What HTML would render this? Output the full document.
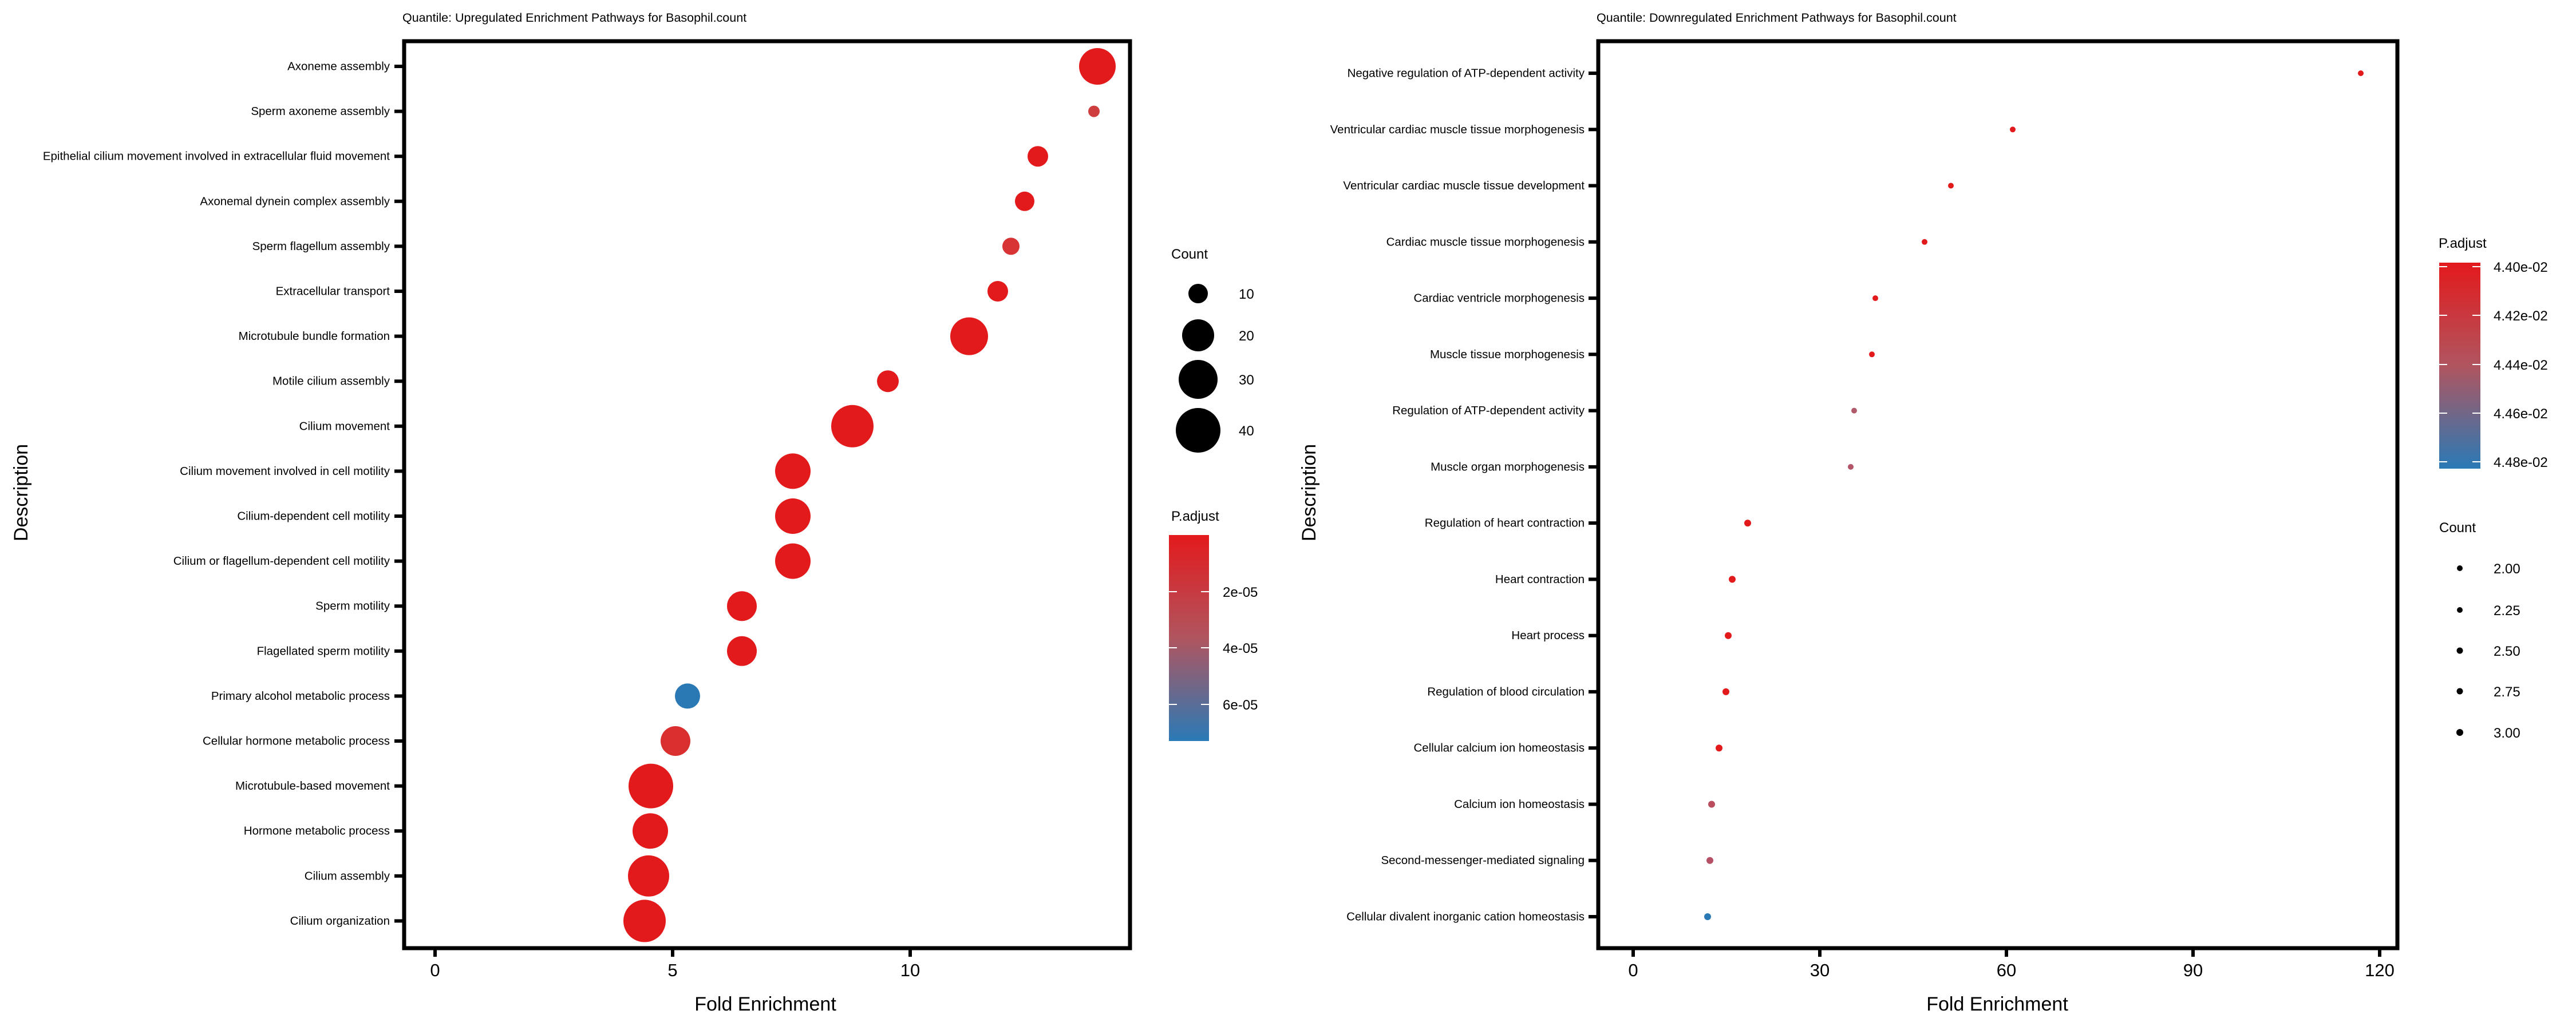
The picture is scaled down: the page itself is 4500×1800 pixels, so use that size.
<!DOCTYPE html>
<html><head><meta charset="utf-8"><style>
html,body{margin:0;padding:0;background:#fff;}
svg{display:block;}
text{font-family:"Liberation Sans",Arial,sans-serif;fill:#000;}
.yl{font-size:20.5px;text-anchor:end;dominant-baseline:central;}
.xt{font-size:31px;text-anchor:middle;}
.lg{font-size:24px;}
</style></head><body>
<svg width="4500" height="1800" viewBox="0 0 4500 1800" xmlns="http://www.w3.org/2000/svg">
<defs>
<linearGradient id="g1" x1="0" y1="0" x2="0" y2="1">
<stop offset="0" stop-color="#E31A1C"/><stop offset="0.5" stop-color="#B0555F"/><stop offset="1" stop-color="#2A7AB6"/>
</linearGradient>
</defs>
<rect width="4500" height="1800" fill="#fff"/>

<!-- LEFT PANEL -->
<text x="703" y="38" style="font-size:21.5px">Quantile: Upregulated Enrichment Pathways for Basophil.count</text>
<rect x="706" y="72" width="1268" height="1585" fill="none" stroke="#000" stroke-width="7"/>
<g stroke="#000" stroke-width="6">
<line x1="760" y1="1660" x2="760" y2="1672"/><line x1="1175" y1="1660" x2="1175" y2="1672"/><line x1="1590" y1="1660" x2="1590" y2="1672"/>
</g>
<text class="xt" x="760" y="1706">0</text><text class="xt" x="1175" y="1706">5</text><text class="xt" x="1590" y="1706">10</text>
<text x="1337" y="1766" style="font-size:34px;text-anchor:middle">Fold Enrichment</text>
<text transform="translate(48,861) rotate(-90)" style="font-size:34px;text-anchor:middle">Description</text>
<g stroke="#000" stroke-width="6">
<line x1="689" x2="703" y1="116" y2="116"/><line x1="689" x2="703" y1="194.6" y2="194.6"/><line x1="689" x2="703" y1="273.2" y2="273.2"/><line x1="689" x2="703" y1="351.8" y2="351.8"/><line x1="689" x2="703" y1="430.4" y2="430.4"/><line x1="689" x2="703" y1="509" y2="509"/><line x1="689" x2="703" y1="587.6" y2="587.6"/><line x1="689" x2="703" y1="666.2" y2="666.2"/><line x1="689" x2="703" y1="744.8" y2="744.8"/><line x1="689" x2="703" y1="823.4" y2="823.4"/><line x1="689" x2="703" y1="902" y2="902"/><line x1="689" x2="703" y1="980.6" y2="980.6"/><line x1="689" x2="703" y1="1059.2" y2="1059.2"/><line x1="689" x2="703" y1="1137.8" y2="1137.8"/><line x1="689" x2="703" y1="1216.4" y2="1216.4"/><line x1="689" x2="703" y1="1295" y2="1295"/><line x1="689" x2="703" y1="1373.6" y2="1373.6"/><line x1="689" x2="703" y1="1452.2" y2="1452.2"/><line x1="689" x2="703" y1="1530.8" y2="1530.8"/><line x1="689" x2="703" y1="1609.4" y2="1609.4"/>
</g>
<g>
<text class="yl" x="681" y="116">Axoneme assembly</text>
<text class="yl" x="681" y="194.6">Sperm axoneme assembly</text>
<text class="yl" x="681" y="273.2">Epithelial cilium movement involved in extracellular fluid movement</text>
<text class="yl" x="681" y="351.8">Axonemal dynein complex assembly</text>
<text class="yl" x="681" y="430.4">Sperm flagellum assembly</text>
<text class="yl" x="681" y="509">Extracellular transport</text>
<text class="yl" x="681" y="587.6">Microtubule bundle formation</text>
<text class="yl" x="681" y="666.2">Motile cilium assembly</text>
<text class="yl" x="681" y="744.8">Cilium movement</text>
<text class="yl" x="681" y="823.4">Cilium movement involved in cell motility</text>
<text class="yl" x="681" y="902">Cilium-dependent cell motility</text>
<text class="yl" x="681" y="980.6">Cilium or flagellum-dependent cell motility</text>
<text class="yl" x="681" y="1059.2">Sperm motility</text>
<text class="yl" x="681" y="1137.8">Flagellated sperm motility</text>
<text class="yl" x="681" y="1216.4">Primary alcohol metabolic process</text>
<text class="yl" x="681" y="1295">Cellular hormone metabolic process</text>
<text class="yl" x="681" y="1373.6">Microtubule-based movement</text>
<text class="yl" x="681" y="1452.2">Hormone metabolic process</text>
<text class="yl" x="681" y="1530.8">Cilium assembly</text>
<text class="yl" x="681" y="1609.4">Cilium organization</text>
</g>
<g fill="#E31A1C">
<circle cx="1917" cy="116" r="32"/>
<circle cx="1911" cy="194.6" r="10" fill="#CE3E3F"/>
<circle cx="1813" cy="273.2" r="18"/>
<circle cx="1790" cy="351.8" r="17"/>
<circle cx="1766" cy="430.4" r="15" fill="#D83335"/>
<circle cx="1743" cy="509" r="18"/>
<circle cx="1693" cy="587.6" r="33"/>
<circle cx="1551" cy="666.2" r="19"/>
<circle cx="1489" cy="744.8" r="37"/>
<circle cx="1385" cy="823.4" r="31"/>
<circle cx="1385" cy="902" r="31"/>
<circle cx="1385" cy="980.6" r="31"/>
<circle cx="1296" cy="1059.2" r="26"/>
<circle cx="1296" cy="1137.8" r="26"/>
<circle cx="1201" cy="1216.4" r="22" fill="#2A79B5"/>
<circle cx="1180" cy="1295" r="26" fill="#D9302F"/>
<circle cx="1137" cy="1373.6" r="39"/>
<circle cx="1136" cy="1452.2" r="31"/>
<circle cx="1133" cy="1530.8" r="36"/>
<circle cx="1126" cy="1609.4" r="37"/>
</g>
<text class="lg" x="2046" y="452">Count</text>
<circle cx="2093" cy="513" r="17"/><circle cx="2093" cy="586" r="28"/><circle cx="2093" cy="663" r="34"/><circle cx="2093" cy="752" r="39"/>
<text class="lg" x="2164" y="522">10</text><text class="lg" x="2164" y="595">20</text><text class="lg" x="2164" y="672">30</text><text class="lg" x="2164" y="761">40</text>
<text class="lg" x="2046" y="910">P.adjust</text>
<rect x="2042" y="935" width="70" height="360" fill="url(#g1)"/>
<g stroke="#fff" stroke-width="2">
<line x1="2042" x2="2056" y1="1034" y2="1034"/><line x1="2098" x2="2112" y1="1034" y2="1034"/>
<line x1="2042" x2="2056" y1="1132" y2="1132"/><line x1="2098" x2="2112" y1="1132" y2="1132"/>
<line x1="2042" x2="2056" y1="1231" y2="1231"/><line x1="2098" x2="2112" y1="1231" y2="1231"/>
</g>
<text class="lg" x="2136" y="1043">2e-05</text><text class="lg" x="2136" y="1141">4e-05</text><text class="lg" x="2136" y="1240">6e-05</text>

<!-- RIGHT PANEL -->
<text x="2789" y="38" style="font-size:21.5px">Quantile: Downregulated Enrichment Pathways for Basophil.count</text>
<rect x="2792" y="72" width="1396" height="1585" fill="none" stroke="#000" stroke-width="7"/>
<g stroke="#000" stroke-width="6">
<line x1="2853" y1="1660" x2="2853" y2="1672"/><line x1="3179" y1="1660" x2="3179" y2="1672"/><line x1="3505" y1="1660" x2="3505" y2="1672"/><line x1="3831" y1="1660" x2="3831" y2="1672"/><line x1="4157" y1="1660" x2="4157" y2="1672"/>
</g>
<text class="xt" x="2853" y="1706">0</text><text class="xt" x="3179" y="1706">30</text><text class="xt" x="3505" y="1706">60</text><text class="xt" x="3831" y="1706">90</text><text class="xt" x="4157" y="1706">120</text>
<text x="3489" y="1766" style="font-size:34px;text-anchor:middle">Fold Enrichment</text>
<text transform="translate(2298,861) rotate(-90)" style="font-size:34px;text-anchor:middle">Description</text>
<g stroke="#000" stroke-width="6">
<line x1="2775" x2="2789" y1="128" y2="128"/><line x1="2775" x2="2789" y1="226.3" y2="226.3"/><line x1="2775" x2="2789" y1="324.5" y2="324.5"/><line x1="2775" x2="2789" y1="422.8" y2="422.8"/><line x1="2775" x2="2789" y1="521.1" y2="521.1"/><line x1="2775" x2="2789" y1="619.3" y2="619.3"/><line x1="2775" x2="2789" y1="717.6" y2="717.6"/><line x1="2775" x2="2789" y1="815.9" y2="815.9"/><line x1="2775" x2="2789" y1="914.1" y2="914.1"/><line x1="2775" x2="2789" y1="1012.4" y2="1012.4"/><line x1="2775" x2="2789" y1="1110.7" y2="1110.7"/><line x1="2775" x2="2789" y1="1208.9" y2="1208.9"/><line x1="2775" x2="2789" y1="1307.2" y2="1307.2"/><line x1="2775" x2="2789" y1="1405.5" y2="1405.5"/><line x1="2775" x2="2789" y1="1503.7" y2="1503.7"/><line x1="2775" x2="2789" y1="1602" y2="1602"/>
</g>
<g>
<text class="yl" x="2768" y="128">Negative regulation of ATP-dependent activity</text>
<text class="yl" x="2768" y="226.3">Ventricular cardiac muscle tissue morphogenesis</text>
<text class="yl" x="2768" y="324.5">Ventricular cardiac muscle tissue development</text>
<text class="yl" x="2768" y="422.8">Cardiac muscle tissue morphogenesis</text>
<text class="yl" x="2768" y="521.1">Cardiac ventricle morphogenesis</text>
<text class="yl" x="2768" y="619.3">Muscle tissue morphogenesis</text>
<text class="yl" x="2768" y="717.6">Regulation of ATP-dependent activity</text>
<text class="yl" x="2768" y="815.9">Muscle organ morphogenesis</text>
<text class="yl" x="2768" y="914.1">Regulation of heart contraction</text>
<text class="yl" x="2768" y="1012.4">Heart contraction</text>
<text class="yl" x="2768" y="1110.7">Heart process</text>
<text class="yl" x="2768" y="1208.9">Regulation of blood circulation</text>
<text class="yl" x="2768" y="1307.2">Cellular calcium ion homeostasis</text>
<text class="yl" x="2768" y="1405.5">Calcium ion homeostasis</text>
<text class="yl" x="2768" y="1503.7">Second-messenger-mediated signaling</text>
<text class="yl" x="2768" y="1602">Cellular divalent inorganic cation homeostasis</text>
</g>
<g fill="#E31A1C">
<circle cx="4124" cy="128" r="5"/>
<circle cx="3516" cy="226.3" r="5"/>
<circle cx="3408" cy="324.5" r="5"/>
<circle cx="3362" cy="422.8" r="5"/>
<circle cx="3276" cy="521.1" r="5"/>
<circle cx="3270" cy="619.3" r="5"/>
<circle cx="3239" cy="717.6" r="5" fill="#B05A6C"/>
<circle cx="3233" cy="815.9" r="5" fill="#B35468"/>
<circle cx="3053" cy="914.1" r="6"/>
<circle cx="3026" cy="1012.4" r="6"/>
<circle cx="3019" cy="1110.7" r="6"/>
<circle cx="3015" cy="1208.9" r="6"/>
<circle cx="3003" cy="1307.2" r="6"/>
<circle cx="2990" cy="1405.5" r="6" fill="#BA4E5E"/>
<circle cx="2987" cy="1503.7" r="6" fill="#B65064"/>
<circle cx="2983" cy="1602" r="6" fill="#2A79B5"/>
</g>
<text class="lg" x="4260" y="433">P.adjust</text>
<rect x="4261" y="459" width="72" height="360" fill="url(#g1)"/>
<g stroke="#fff" stroke-width="2">
<line x1="4261" x2="4275" y1="466" y2="466"/><line x1="4319" x2="4333" y1="466" y2="466"/>
<line x1="4261" x2="4275" y1="551" y2="551"/><line x1="4319" x2="4333" y1="551" y2="551"/>
<line x1="4261" x2="4275" y1="637" y2="637"/><line x1="4319" x2="4333" y1="637" y2="637"/>
<line x1="4261" x2="4275" y1="722" y2="722"/><line x1="4319" x2="4333" y1="722" y2="722"/>
<line x1="4261" x2="4275" y1="807" y2="807"/><line x1="4319" x2="4333" y1="807" y2="807"/>
</g>
<text class="lg" x="4356" y="475">4.40e-02</text><text class="lg" x="4356" y="560">4.42e-02</text><text class="lg" x="4356" y="646">4.44e-02</text><text class="lg" x="4356" y="731">4.46e-02</text><text class="lg" x="4356" y="816">4.48e-02</text>
<text class="lg" x="4261" y="930">Count</text>
<circle cx="4297" cy="993" r="5"/><circle cx="4297" cy="1066" r="5"/><circle cx="4297" cy="1137" r="5.5"/><circle cx="4297" cy="1208" r="5.5"/><circle cx="4297" cy="1280" r="6"/>
<text class="lg" x="4356" y="1002">2.00</text><text class="lg" x="4356" y="1075">2.25</text><text class="lg" x="4356" y="1146">2.50</text><text class="lg" x="4356" y="1217">2.75</text><text class="lg" x="4356" y="1289">3.00</text>
</svg>
</body></html>
